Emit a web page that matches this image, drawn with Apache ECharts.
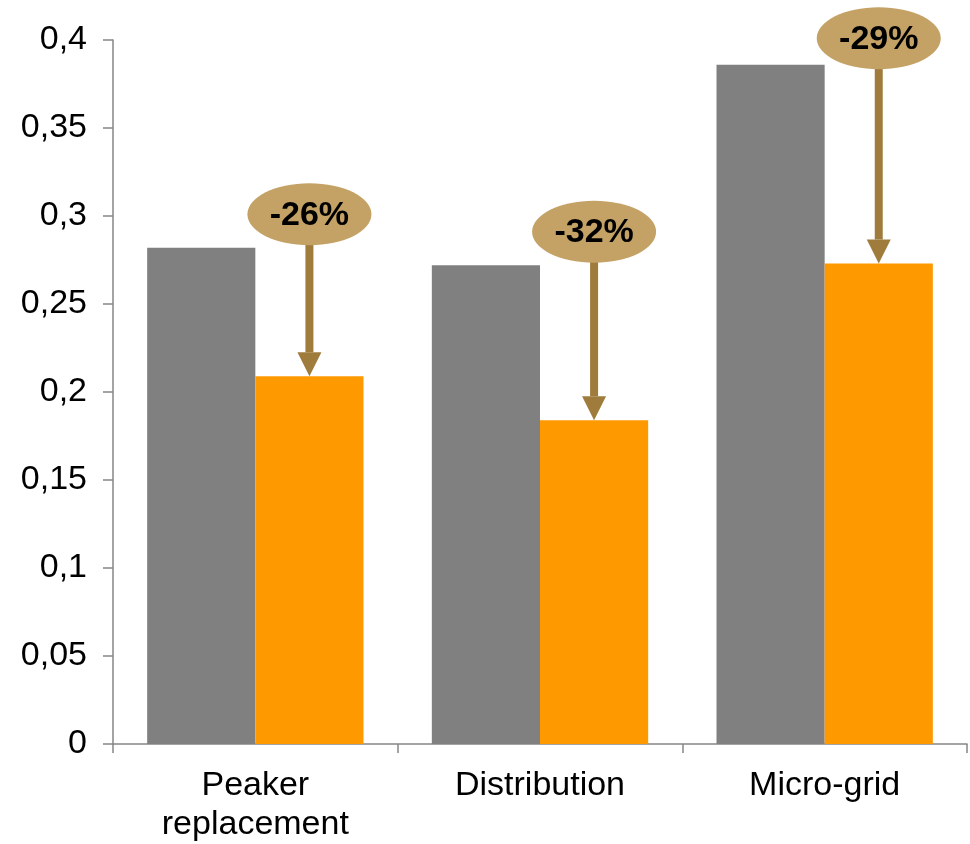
<!DOCTYPE html>
<html>
<head>
<meta charset="utf-8">
<script src="https://cdn.jsdelivr.net/npm/echarts@6/dist/echarts.min.js"></script>
<style>html,body{margin:0;padding:0;background:#fff}#c{width:970px;height:844px}</style>
</head>
<body>
<div id="c"></div>
<script>
var categories = ['Peaker\nreplacement', 'Distribution', 'Micro-grid'];
var beforeValues = [0.282, 0.272, 0.386];
var afterValues = [0.209, 0.184, 0.273];
var changeLabels = ['-26%', '-32%', '-29%'];
var bubbleValues = [0.301, 0.291, 0.401];
var yTicks = { min: 0, max: 0.4, interval: 0.05 };

var FONT = "'Liberation Sans', Arial, sans-serif";
var annotData = categories.map(function (c, i) { return [i, bubbleValues[i], afterValues[i]]; });

var chart = echarts.init(document.getElementById('c'));
chart.setOption({
  animation: false,
  grid: { left: 113, right: 3, top: 40, bottom: 100, containLabel: false },
  xAxis: {
    type: 'category',
    data: categories,
    axisLine: { lineStyle: { color: '#868686', width: 1.5 } },
    axisTick: { show: true, length: 9, lineStyle: { color: '#868686', width: 1.5 } },
    axisLabel: { color: '#000', fontSize: 34, fontFamily: FONT, margin: 22, lineHeight: 39 }
  },
  yAxis: {
    type: 'value',
    min: yTicks.min, max: yTicks.max, interval: yTicks.interval,
    splitLine: { show: false },
    axisLine: { show: true, lineStyle: { color: '#868686', width: 1.5 } },
    axisTick: { show: true, length: 10, lineStyle: { color: '#868686', width: 1.5 } },
    axisLabel: {
      color: '#000', fontSize: 34, fontFamily: FONT, margin: 26,
      formatter: function (v) { return String(+v.toFixed(2)).replace('.', ','); }
    }
  },
  series: [
    { type: 'bar', data: beforeValues, barWidth: '38%', barGap: '0%', itemStyle: { color: '#808080' } },
    { type: 'bar', data: afterValues, barWidth: '38%', barGap: '0%', itemStyle: { color: '#FF9900' } },
    {
      type: 'custom',
      data: annotData,
      encode: { x: 0, y: 1 },
      z: 10,
      renderItem: function (params, api) {
        var idx = api.value(0);
        var band = api.size([1, 0])[0];
        var off = band * 0.19;
        var e = api.coord([idx, api.value(1)]);
        var b = api.coord([idx, api.value(2)]);
        var cx = e[0] + off, cy = e[1];
        var rx = 62, ry = 31;
        var tip = b[1];
        var headH = 24, headW = 24, shaftW = 8;
        var arrowColor = '#A07C3C';
        return {
          type: 'group',
          children: [
            { type: 'rect', shape: { x: cx - shaftW / 2, y: cy + ry - 2, width: shaftW, height: tip - headH - (cy + ry - 2) }, style: { fill: arrowColor } },
            { type: 'polygon', shape: { points: [[cx - headW / 2, tip - headH], [cx + headW / 2, tip - headH], [cx, tip]] }, style: { fill: arrowColor } },
            { type: 'ellipse', shape: { cx: cx, cy: cy, rx: rx, ry: ry }, style: { fill: '#C4A265' } },
            { type: 'text', x: cx, y: cy + 1, style: { text: changeLabels[idx], fill: '#000', font: 'bold 34px ' + FONT, align: 'center', verticalAlign: 'middle' } }
          ]
        };
      }
    }
  ]
});
</script>
</body>
</html>
